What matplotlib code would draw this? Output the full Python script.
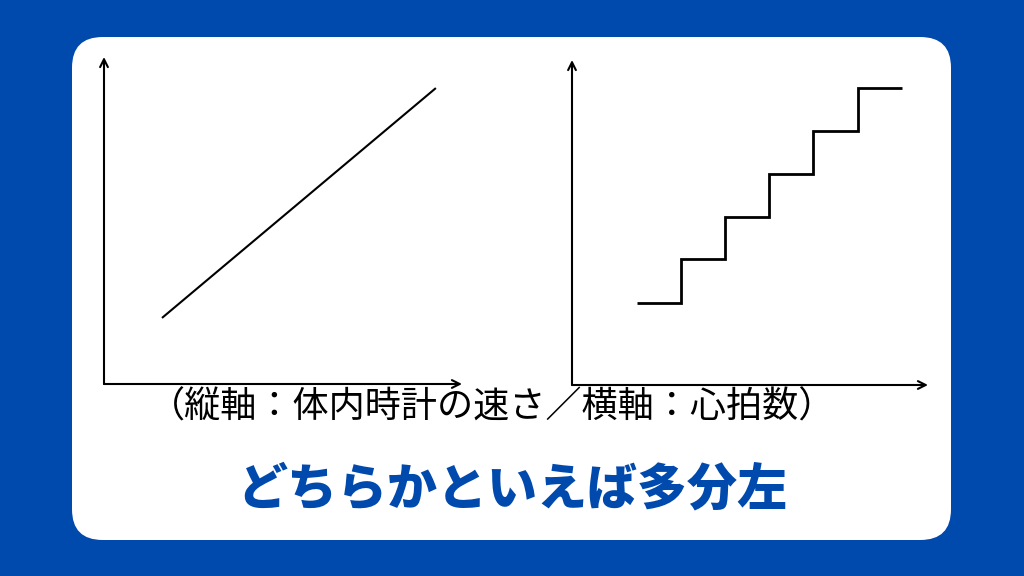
import numpy as np
import matplotlib.pyplot as plt
from matplotlib.patches import FancyBboxPatch

plt.rcParams['font.family'] = ['Noto Sans CJK JP', 'DejaVu Sans']

# 左のグラフ：直線（軸の長さを10とした単位）
line_x = [1.62, 9.27]
line_y = [2.02, 9.05]

# 右のグラフ：階段
step_edges = [1.83, 3.06, 4.30, 5.53, 6.77, 8.03, 9.27]
step_levels = [2.53, 3.87, 5.18, 6.49, 7.82, 9.13]

caption = '（縦軸：体内時計の速さ／横軸：心拍数）'
answer = 'どちらかといえば多分左'

blue = '#004AAD'
W, H = 1024, 576

fig = plt.figure(figsize=(10.24, 5.76), dpi=100)
fig.patch.set_facecolor(blue)

# 白い角丸の板
card = FancyBboxPatch((72 / W, 1 - 540 / H), (951 - 72) / W, (540 - 37) / H,
                      boxstyle='round,pad=0,rounding_size=0.03',
                      transform=fig.transFigure, facecolor='white',
                      edgecolor='none', mutation_aspect=W / H, zorder=-5)
fig.patches.append(card)


def make_axes(x0, x1, ytop, ybot):
    ax = fig.add_axes([x0 / W, 1 - ybot / H, (x1 - x0) / W, (ybot - ytop) / H])
    ax.set_zorder(2)
    ax.set_xlim(0, 10)
    ax.set_ylim(0, 10)
    ax.axis('off')
    ax.patch.set_alpha(0)
    arrow = dict(arrowstyle='->', color='black', lw=1.5,
                 shrinkA=0, shrinkB=0, mutation_scale=14)
    ax.annotate('', xy=(10, 0), xytext=(0, 0), arrowprops=arrow,
                annotation_clip=False)
    ax.annotate('', xy=(0, 10), xytext=(0, 0), arrowprops=arrow,
                annotation_clip=False)
    return ax


ax1 = make_axes(104, 462, 57, 384)
ax1.plot(line_x, line_y, color='black', lw=1.5, solid_capstyle='butt')

ax2 = make_axes(572, 928, 60, 385)
ax2.stairs(step_levels, step_edges, baseline=None, color='black', lw=2)

fig.text(492 / W, 1 - 408 / H, caption, ha='center', va='center',
         fontsize=26, color='black', zorder=3)
fig.text(512 / W, 1 - 490 / H, answer, ha='center', va='center',
         fontsize=36, fontweight='heavy', color=blue, zorder=3)

fig.savefig('out.png', dpi=100, facecolor=fig.get_facecolor())
